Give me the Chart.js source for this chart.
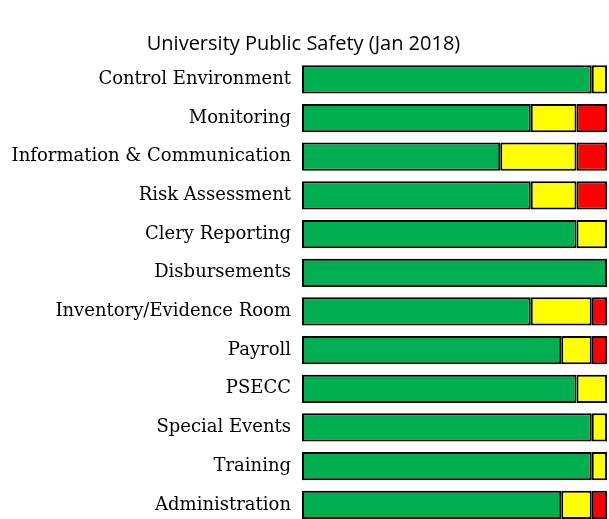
<!DOCTYPE html>
<html>
<head>
<meta charset="utf-8">
<script src="https://cdn.jsdelivr.net/npm/chart.js@4"></script>
<style>
  html, body { margin: 0; padding: 0; background: #fff; overflow: hidden; }
  #wrap { width: 609px; height: 538px; position: relative; }
</style>
</head>
<body>
<div id="wrap"><canvas id="chart"></canvas></div>
<script>
// ===== Data =====
const categories = [
  "Control Environment", "Monitoring", "Information & Communication", "Risk Assessment",
  "Clery Reporting", "Disbursements", "Inventory/Evidence Room", "Payroll",
  "PSECC", "Special Events", "Training", "Administration"
];
const greenValues = [95, 75, 65, 75, 90, 100, 75, 85, 90, 95, 95, 85];
const yellowValues = [5, 15, 25, 15, 10, 0, 20, 10, 10, 5, 5, 10];
const redValues = [0, 10, 10, 10, 0, 0, 5, 5, 0, 0, 0, 5];

// zero-width segments should not draw a border
const clean = arr => arr.map(v => (v === 0 ? null : v));

const barStyle = { borderColor: "#000", borderWidth: 2, borderSkipped: false, barPercentage: 0.73, categoryPercentage: 1 };

new Chart(document.getElementById("chart"), {
  type: "bar",
  data: {
    labels: categories,
    datasets: [
      { label: "Green", data: clean(greenValues), backgroundColor: "#00b050", ...barStyle },
      { label: "Yellow", data: clean(yellowValues), backgroundColor: "#ffff00", ...barStyle },
      { label: "Red", data: clean(redValues), backgroundColor: "#ff0000", ...barStyle }
    ]
  },
  options: {
    indexAxis: "y",
    responsive: true,
    maintainAspectRatio: false,
    animation: false,
    layout: { padding: { left: 0, right: 2, top: 0, bottom: 0 } },
    scales: {
      x: { stacked: true, min: 0, max: 100, display: false },
      y: {
        stacked: true,
        grid: { display: false },
        border: { display: false },
        ticks: {
          padding: 3,
          color: "#000",
          font: { family: "DejaVu Serif", size: 18 }
        },
        afterFit: scale => { scale.width = 302; }
      }
    },
    plugins: {
      legend: { display: false },
      tooltip: { enabled: false },
      title: {
        display: true,
        text: "University Public Safety (Jan 2018)",
        color: "#000",
        font: { family: "Open Sans", size: 20, weight: "normal" },
        padding: { top: 32, bottom: 4 }
      }
    }
  }
});
</script>
</body>
</html>
